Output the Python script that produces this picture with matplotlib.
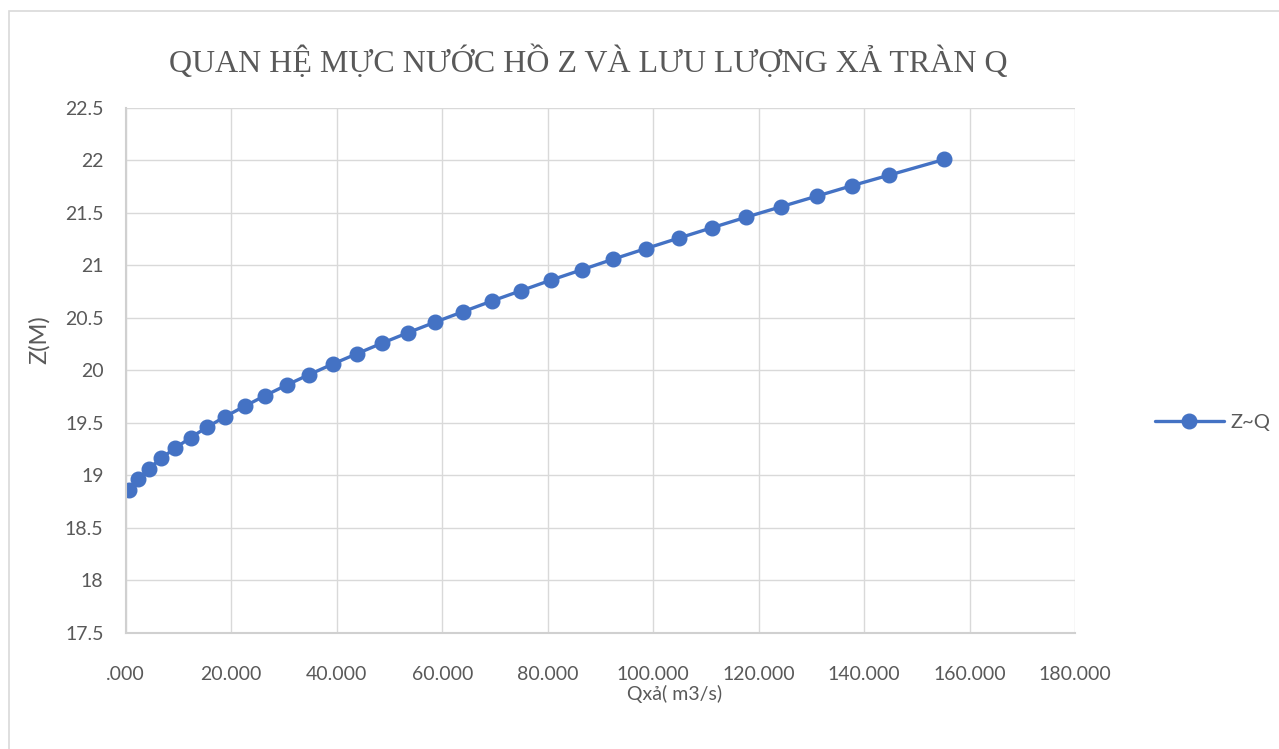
import matplotlib
matplotlib.use("Agg")
import matplotlib.pyplot as plt
from matplotlib.patches import Rectangle
from matplotlib.ticker import FuncFormatter, MultipleLocator

# Data
q_values = [0.63, 2.33, 4.36, 6.64, 9.42, 12.32, 15.47, 18.88, 22.62, 26.46,
            30.51, 34.80, 39.24, 43.90, 48.64, 53.57, 58.69, 64.00, 69.38, 75.00,
            80.63, 86.56, 92.44, 98.58, 104.83, 111.20, 117.65, 124.30, 131.00,
            137.70, 144.70, 155.20]
z_values = [18.86, 18.96, 19.06, 19.16, 19.26, 19.36, 19.46, 19.56, 19.66, 19.76,
            19.86, 19.96, 20.06, 20.16, 20.26, 20.36, 20.46, 20.56, 20.66, 20.76,
            20.86, 20.96, 21.06, 21.16, 21.26, 21.36, 21.46, 21.56, 21.66, 21.76,
            21.86, 22.01]
series_name = "Z~Q"
title = "QUAN HỆ MỰC NƯỚC HỒ Z VÀ LƯU LƯỢNG XẢ TRÀN Q"
x_label = "Qxả( m3/s)"
y_label = "Z(M)"

W, H = 1279, 749
fig = plt.figure(figsize=(W / 100, H / 100), dpi=100)
fig.patch.set_facecolor("white")

# outer chart border
fig.patches.append(Rectangle((8.5 / W, -0.1), 1.2, 1 - 11 / H + 0.1,
                             transform=fig.transFigure, fill=False,
                             edgecolor="#D9D9D9", linewidth=1.2))

ax = fig.add_axes([125.7 / W, 1 - 632.7 / H, (1075.2 - 125.7) / W, (632.7 - 108) / H])
blue = "#4472C4"
txt = "#595959"
sans = ["Lato", "DejaVu Sans"]

ax.plot(q_values, z_values, color=blue, linewidth=2.4, marker="o",
        markersize=10.5, label=series_name, solid_capstyle="round")

ax.set_xlim(0, 180)
ax.set_ylim(17.5, 22.5)
ax.xaxis.set_major_locator(MultipleLocator(20))
ax.yaxis.set_major_locator(MultipleLocator(0.5))


def xfmt(v, pos):
    s = f"{v:.3f}"
    return s[1:] if s.startswith("0") else s


def yfmt(v, pos):
    return f"{v:g}"


ax.xaxis.set_major_formatter(FuncFormatter(xfmt))
ax.yaxis.set_major_formatter(FuncFormatter(yfmt))
ax.grid(True, color="#D9D9D9", linewidth=1.0)
ax.set_axisbelow(True)
for s in ["top", "right"]:
    ax.spines[s].set_visible(False)
for s in ["left", "bottom"]:
    ax.spines[s].set_color("#D0D0D0")
    ax.spines[s].set_linewidth(1.5)
ax.tick_params(length=0, colors=txt, labelsize=14)
ax.tick_params(axis="x", pad=24)
ax.tick_params(axis="y", pad=16)
for lab in ax.get_xticklabels() + ax.get_yticklabels():
    lab.set_family(sans)
    lab.set_color(txt)

fig.text(588 / W, 1 - 62 / H, title, ha="center", va="center",
         fontsize=23, color=txt, family=["Liberation Serif", "DejaVu Serif"])
fig.text(675 / W, 1 - 694 / H, x_label, ha="center", va="center",
         fontsize=14, color=txt, family=sans)
fig.text(39 / W, 1 - 340 / H, y_label, ha="center", va="center",
         rotation=90, fontsize=17, color=txt, family=sans)

leg = ax.legend(loc="center left", bbox_to_anchor=(1137 / W, 1 - 422 / H),
                bbox_transform=fig.transFigure, frameon=False,
                handlelength=3.4, handletextpad=0.35, prop={"family": sans, "size": 14.5})
for t in leg.get_texts():
    t.set_color(txt)

fig.savefig("out.png", dpi=100, facecolor="white")
